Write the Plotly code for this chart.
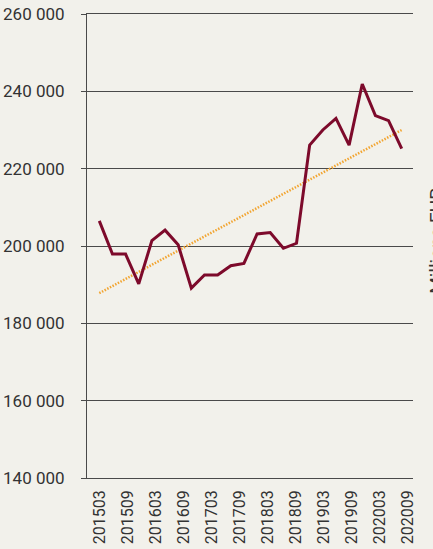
import plotly.graph_objects as go

# Data (quarterly values, millions EUR)
values = [206500, 197900, 197900, 190200, 201400, 204100, 200300, 189100,
          192500, 192500, 194900, 195500, 203100, 203500, 199400, 200700,
          226100, 230000, 233000, 226100, 241900, 233700, 232400, 225200]
trend_values = [187800, 230000]
tick_labels = ["201503", "201509", "201603", "201609", "201703", "201709",
               "201803", "201809", "201903", "201909", "202003", "202009"]

x_idx = list(range(len(values)))
trend_x = [x_idx[0], x_idx[-1]]

BG = "#F2F1EB"
TXT = "#333333"
LINE = "#4A4A4A"
FONT = "Roboto"

fig = go.Figure()
fig.add_trace(go.Scatter(
    x=trend_x, y=trend_values, mode="lines",
    line=dict(color="#F2A531", width=2.5, dash="1.5px,1.5px"),
    hoverinfo="skip", showlegend=False))
fig.add_trace(go.Scatter(
    x=x_idx, y=values, mode="lines",
    line=dict(color="#7D0A2B", width=3),
    showlegend=False))
# invisible trace to activate category label axis
fig.add_trace(go.Scatter(
    x=tick_labels, y=[None] * len(tick_labels), xaxis="x2",
    mode="lines", showlegend=False, hoverinfo="skip"))

fig.update_layout(
    width=433, height=549,
    paper_bgcolor=BG, plot_bgcolor=BG,
    margin=dict(l=87, r=20, t=14, b=71, autoexpand=False),
    separators=". ",
    font=dict(family=FONT, color=TXT),
    xaxis=dict(range=[-0.9355, 23.86], showticklabels=False, showgrid=False,
               zeroline=False, showline=True, mirror=True, linecolor=LINE,
               linewidth=1, ticks="", automargin=False),
    xaxis2=dict(type="category", overlaying="x", anchor="y", side="bottom",
                categoryorder="array", categoryarray=tick_labels,
                range=[-0.464, 11.179], tickangle=-90,
                tickfont=dict(family=FONT, size=16, color=TXT),
                showgrid=False, zeroline=False, showline=False, ticks="",
                ticklabelstandoff=8, automargin=False),
    yaxis=dict(range=[140000, 260000], dtick=20000, tickformat=",d",
               showgrid=True, gridcolor=LINE, gridwidth=1,
               zeroline=False, showline=True, linecolor=LINE, linewidth=1,
               ticks="outside", ticklen=5, tickcolor=LINE,
               tickfont=dict(family=FONT, size=17, color=TXT),
               ticklabelstandoff=13, automargin=False),
    annotations=[dict(text="Millions EUR", textangle=-90, xref="paper", yref="paper",
                      x=1, y=0.51, xanchor="left", yanchor="middle", xshift=10,
                      showarrow=False, font=dict(family=FONT, size=19, color=TXT))],
)

fig.write_html("out.html", config={"displayModeBar": False},
               post_script="document.body.style.margin='0';document.body.style.overflow='hidden';")
